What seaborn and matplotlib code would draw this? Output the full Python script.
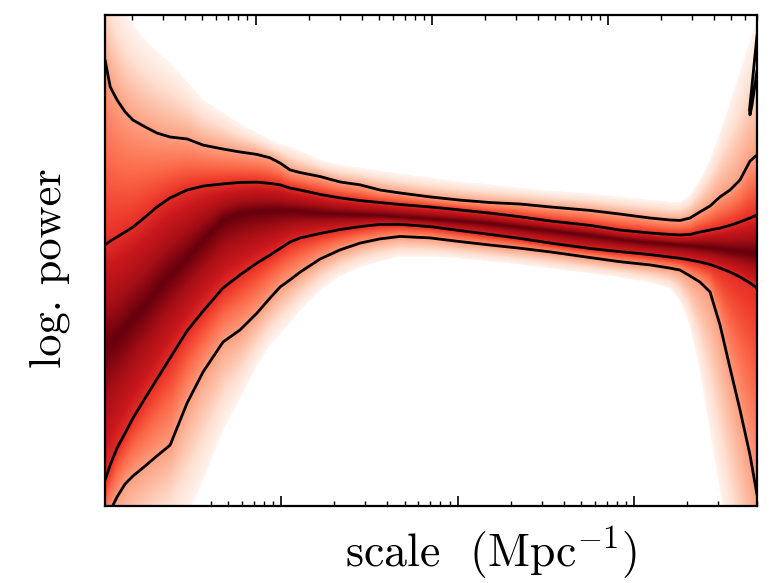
import numpy as np
import pandas as pd
import matplotlib
matplotlib.use("Agg")
import matplotlib.pyplot as plt
from matplotlib.ticker import FixedLocator, LogLocator, NullFormatter, NullLocator
import seaborn as sns

# ---- data ----------------------------------------------------------------
# scale k (Mpc^-1)
k = np.array([1.00e-4, 1.07e-4, 1.17e-4, 1.30e-4, 1.44e-4, 1.69e-4, 1.97e-4, 2.34e-4,
              2.92e-4, 3.60e-4, 4.67e-4, 5.83e-4, 7.28e-4, 8.63e-4, 9.84e-4, 1.12e-3,
              1.28e-3, 1.66e-3, 2.15e-3, 2.80e-3, 3.63e-3, 4.72e-3, 6.98e-3, 1.03e-2,
              1.53e-2, 2.26e-2, 3.35e-2, 5.64e-2, 8.35e-2, 0.1235, 0.1604, 0.1828,
              0.2084, 0.2373, 0.2705, 0.3083, 0.3513, 0.4003, 0.456, 0.5])

# edge of the shaded region above (3 sigma)
upper_3sigma = np.array([4.224, 4.163, 4.081, 4.012, 3.959, 3.898, 3.849, 3.804,
                         3.727, 3.654, 3.601, 3.556, 3.519, 3.491, 3.475, 3.462,
                         3.446, 3.409, 3.389, 3.377, 3.365, 3.352, 3.336, 3.320,
                         3.308, 3.295, 3.283, 3.271, 3.259, 3.246, 3.238, 3.238,
                         3.263, 3.328, 3.409, 3.519, 3.642, 3.768, 3.890, 3.980])
upper_2sigma = np.array([3.817, 3.707, 3.654, 3.605, 3.572, 3.544, 3.519, 3.503,
                         3.495, 3.470, 3.454, 3.442, 3.432, 3.418, 3.397, 3.369,
                         3.358, 3.342, 3.320, 3.308, 3.287, 3.275, 3.259, 3.246,
                         3.236, 3.230, 3.218, 3.204, 3.189, 3.173, 3.165, 3.163,
                         3.173, 3.198, 3.222, 3.259, 3.287, 3.328, 3.405, 3.430])
upper_1sigma = np.array([3.063, 3.079, 3.096, 3.116, 3.136, 3.177, 3.218, 3.255,
                         3.287, 3.303, 3.312, 3.318, 3.319, 3.314, 3.308, 3.295,
                         3.287, 3.269, 3.255, 3.244, 3.236, 3.228, 3.218, 3.206,
                         3.193, 3.178, 3.161, 3.143, 3.124, 3.112, 3.106, 3.104,
                         3.106, 3.116, 3.124, 3.132, 3.143, 3.157, 3.173, 3.185])
median = np.array([2.656, 2.668, 2.688, 2.725, 2.766, 2.819, 2.880, 2.941,
                   3.010, 3.084, 3.165, 3.193, 3.202, 3.204, 3.206, 3.204,
                   3.202, 3.196, 3.191, 3.187, 3.185, 3.179, 3.171, 3.163,
                   3.153, 3.138, 3.124, 3.104, 3.088, 3.075, 3.069, 3.065,
                   3.063, 3.059, 3.055, 3.049, 3.043, 3.039, 3.033, 3.031])
lower_1sigma = np.array([2.106, 2.167, 2.236, 2.297, 2.358, 2.440, 2.517, 2.603,
                         2.713, 2.794, 2.888, 2.941, 2.990, 3.022, 3.049, 3.075,
                         3.092, 3.110, 3.126, 3.138, 3.147, 3.147, 3.138, 3.122,
                         3.106, 3.090, 3.071, 3.049, 3.036, 3.024, 3.014, 3.009,
                         3.002, 2.994, 2.984, 2.969, 2.953, 2.933, 2.908, 2.888])
lower_2sigma = np.array([1.923, 1.980, 2.037, 2.090, 2.122, 2.163, 2.204, 2.248,
                         2.419, 2.546, 2.668, 2.717, 2.786, 2.847, 2.892, 2.921,
                         2.953, 3.006, 3.043, 3.071, 3.088, 3.098, 3.092, 3.077,
                         3.063, 3.050, 3.035, 3.012, 2.995, 2.982, 2.969, 2.961,
                         2.937, 2.912, 2.872, 2.737, 2.562, 2.391, 2.208, 2.045])
# edge of the shaded region below (3 sigma)
lower_3sigma = np.array([1.536, 1.576, 1.629, 1.678, 1.719, 1.780, 1.829, 1.882,
                         1.963, 2.106, 2.310, 2.440, 2.574, 2.656, 2.701, 2.749,
                         2.798, 2.880, 2.937, 2.974, 2.998, 3.018, 3.018, 3.010,
                         2.998, 2.986, 2.969, 2.949, 2.933, 2.912, 2.888, 2.839,
                         2.737, 2.554, 2.310, 2.065, 1.821, 1.576, 1.332, 1.169])

# small closed 2-sigma contour at the top right edge
loop_k = np.array([0.5, 0.4746, 0.453, 0.456, 0.468, 0.4868, 0.5])
loop_y = np.array([3.919, 3.756, 3.613, 3.593, 3.633, 3.715, 3.776])

y_ticks = [2.5, 3.0, 3.5]
x_label = "scale  (Mpc$^{-1}$)"
y_label = "log. power"

# ---- style ----------------------------------------------------------------
sns.set_style("ticks")
plt.rcParams["font.family"] = ["cmr10", "DejaVu Serif"]
plt.rcParams["mathtext.fontset"] = "cm"
plt.rcParams["axes.unicode_minus"] = False
plt.rcParams["axes.formatter.use_mathtext"] = True
plt.rcParams["text.color"] = "black"
plt.rcParams["axes.labelcolor"] = "black"

fig = plt.figure(figsize=(7.74, 5.83), dpi=100)
ax = fig.add_axes([0.1357, 0.1321, 0.8424, 0.8422])
ax.set_xscale("log")
ax.set_xlim(1e-4, 0.5)
ax.set_ylim(2.0, 4.0)

# ---- sigma field built from the read quantile curves ----------------------
kk = np.logspace(-4, np.log10(0.5), 900)
yy = np.linspace(2.0, 4.0, 700)
lk = np.log10(k)
lkk = np.log10(kk)
def at(arr):
    return np.interp(lkk, lk, arr)[None, :]
U3, U2, U1, M, L1, L2, L3 = [at(a) for a in (upper_3sigma, upper_2sigma, upper_1sigma,
                                             median, lower_1sigma, lower_2sigma, lower_3sigma)]
Y = yy[:, None] * np.ones_like(kk)[None, :]
up = Y >= M
z_up = np.where(Y <= U1, (Y - M) / (U1 - M),
        np.where(Y <= U2, 1 + (Y - U1) / (U2 - U1), 2 + (Y - U2) / (U3 - U2)))
z_dn = np.where(Y >= L1, (M - Y) / (M - L1),
        np.where(Y >= L2, 1 + (L1 - Y) / (L1 - L2), 2 + (L2 - Y) / (L2 - L3)))
Z = np.where(up, z_up, z_dn)
Z = np.ma.masked_where(Z > 3, Z)

ax.pcolormesh(kk, yy, Z, cmap="Reds_r", vmin=0, vmax=3, shading="gouraud",
              rasterized=True, zorder=1)

# ---- contour lines ---------------------------------------------------------
for arr in (upper_2sigma, upper_1sigma, lower_1sigma, lower_2sigma):
    df = pd.DataFrame({"k": k, "y": arr})
    sns.lineplot(data=df, x="k", y="y", ax=ax, color="black", lw=2.0,
                 sort=False, estimator=None, zorder=3)
df = pd.DataFrame({"k": loop_k, "y": loop_y})
sns.lineplot(data=df, x="k", y="y", ax=ax, color="black", lw=2.0,
             sort=False, estimator=None, zorder=3)
ax.set_xlim(1e-4, 0.5)
ax.set_ylim(2.0, 4.0)

# ---- axes ------------------------------------------------------------------
ax.yaxis.set_major_locator(FixedLocator(y_ticks))
ax.yaxis.set_minor_locator(NullLocator())
ax.xaxis.set_major_locator(LogLocator(base=10, numticks=20))
ax.xaxis.set_minor_locator(LogLocator(base=10, subs=np.arange(2, 10), numticks=50))
ax.xaxis.set_minor_formatter(NullFormatter())
ax.tick_params(which="major", direction="in", length=7, width=1.2, color="black",
               left=True, right=True, bottom=True, top=False,
               labelleft=False, labelbottom=False)
ax.tick_params(which="minor", direction="in", length=3.6, width=1.0, color="black",
               bottom=True, top=False)

top = ax.twiny()
top.set_xscale("log")
top.set_xlim(1.4, 7000)
top.xaxis.set_major_locator(LogLocator(base=10, numticks=20))
top.xaxis.set_minor_locator(LogLocator(base=10, subs=np.arange(2, 10), numticks=50))
top.tick_params(which="major", direction="in", length=7, width=1.2, color="black",
                top=True, labeltop=False)
top.tick_params(which="minor", direction="in", length=3.6, width=1.0, color="black",
                top=True)
top.xaxis.set_minor_formatter(NullFormatter())
for s in top.spines.values():
    s.set_visible(False)

for s in ax.spines.values():
    s.set_visible(True)
    s.set_color("black")
    s.set_linewidth(1.6)
    s.set_zorder(5)

ax.set_xlabel(x_label, fontsize=33, color="black")
ax.set_ylabel(y_label, fontsize=32, color="black")
ax.xaxis.set_label_coords(0.592, -0.037)
ax.yaxis.set_label_coords(-0.054, 0.485)

fig.savefig("out.png", dpi=100)
